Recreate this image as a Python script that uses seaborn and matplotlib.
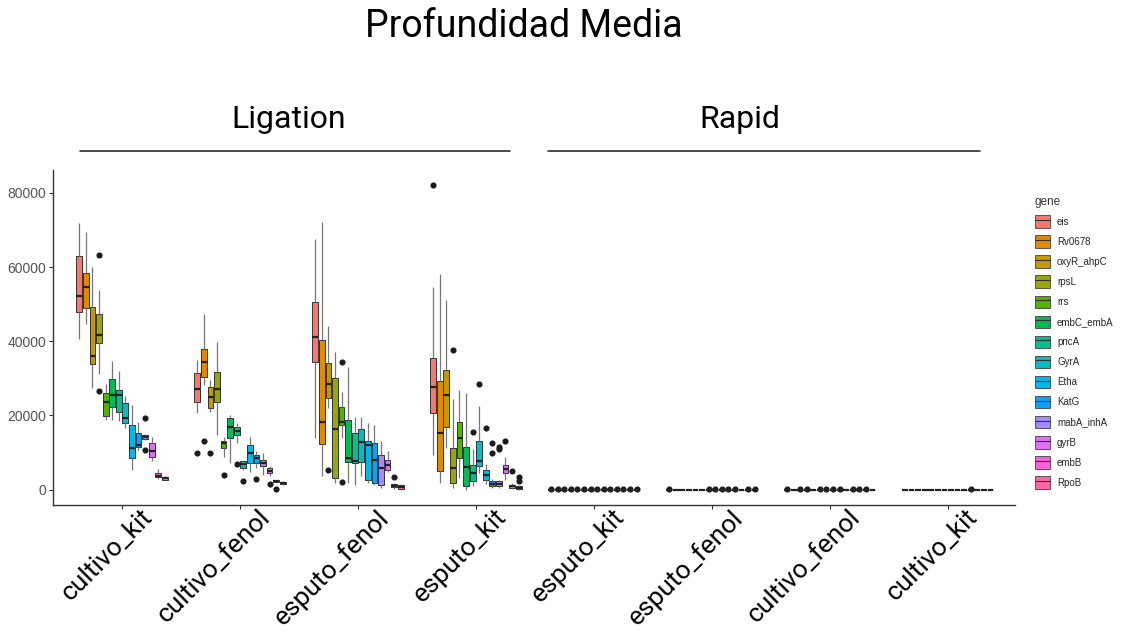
import numpy as np
import pandas as pd
import matplotlib
matplotlib.use("Agg")
import matplotlib.pyplot as plt
import matplotlib.transforms as mtransforms
from matplotlib.patches import Patch
from matplotlib.lines import Line2D
from matplotlib.legend_handler import HandlerTuple
import seaborn as sns

# ---------------- data ----------------
genes = ["eis", "Rv0678", "oxyR_ahpC", "rpsL", "rrs", "embC_embA", "pncA",
         "GyrA", "Etha", "KatG", "mabA_inhA", "gyrB", "embB", "RpoB"]
gene_colors = ["#F8766D", "#E38900", "#C49A00", "#99A800", "#53B400", "#00BC56",
               "#00C094", "#00BFC4", "#00B6EB", "#06A4FF", "#A58AFF", "#DF70F8",
               "#FB61D7", "#FF66A8"]
cond_keys = ["L_cultivo_kit", "L_cultivo_fenol", "L_esputo_fenol", "L_esputo_kit",
             "R_esputo_kit", "R_esputo_fenol", "R_cultivo_fenol", "R_cultivo_kit"]
tick_labels = ["cultivo_kit", "cultivo_fenol", "esputo_fenol", "esputo_kit",
               "esputo_kit", "esputo_fenol", "cultivo_fenol", "cultivo_kit"]
panels = ["Ligation", "Rapid"]

# Ligation - cultivo_kit (five-number summaries + outliers)
ck_low = [40700, 44700, 27300, 31100, 18800, 18800, 18600, 16500, 5400, 10700, 13500, 7600, 2900, 2500]
ck_q1 = [47900, 49000, 33800, 39500, 19900, 22400, 21000, 18000, 8600, 11500, 13700, 8900, 3300, 2700]
ck_med = [52200, 54600, 36100, 41800, 23500, 25500, 25500, 19300, 11300, 12100, 14200, 10300, 3800, 3000]
ck_q3 = [63100, 58400, 49200, 47400, 26100, 29700, 26900, 23400, 17400, 15300, 14700, 12600, 4600, 3400]
ck_high = [71800, 69400, 60100, 53700, 28600, 34700, 32000, 25100, 22800, 18300, 15000, 14300, 5600, 3600]
ck_out = [[], [], [], [63300, 26600], [], [], [], [], [], [], [19300, 10700], [], [], []]

# Ligation - cultivo_fenol
cf_low = [20600, 28200, 21000, 14800, 8900, 7200, 12500, 5400, 4700, 5800, 4000, 3600, 2000, 1200]
cf_q1 = [23500, 30400, 21900, 23700, 11200, 13900, 14800, 5800, 7200, 7200, 6300, 4500, 2100, 1500]
cf_med = [27000, 34500, 24900, 27000, 12500, 17000, 15700, 6800, 9900, 8500, 7200, 5100, 2300, 1800]
cf_q3 = [31500, 37800, 27600, 31600, 13200, 19200, 17000, 7800, 11900, 9400, 8100, 5800, 2500, 2000]
cf_high = [34900, 47400, 29500, 39800, 14300, 20100, 17900, 8100, 14300, 10300, 9900, 6300, 2700, 2200]
cf_out = [[9900], [13200], [9900], [], [4000], [], [7000], [2200], [], [2900], [], [1600], [300], []]

# Ligation - esputo_fenol
ef_low = [13900, 3600, 21900, 1900, 13900, 1800, 1300, 3800, 1800, 1300, 500, 4700, 300, 0]
ef_q1 = [34500, 12300, 24800, 3100, 17500, 7400, 7200, 7400, 2700, 1800, 1200, 5400, 700, 300]
ef_med = [41200, 18300, 28600, 16400, 18100, 8500, 7600, 12800, 11900, 8100, 5800, 6700, 1100, 700]
ef_q3 = [50600, 40300, 34200, 30000, 22400, 18800, 15200, 16400, 13000, 12500, 9400, 8100, 1500, 1200]
ef_high = [67600, 72000, 44100, 37100, 26400, 33100, 19700, 19700, 17900, 17500, 13000, 10300, 1900, 1500]
ef_out = [[], [], [5400], [], [34400, 2100], [], [], [], [], [], [], [], [3300], []]

# Ligation - esputo_kit
ek_low = [9400, 1800, 11200, 500, 3000, 0, 1000, 4500, 1500, 500, 500, 2700, 200, 0]
ek_q1 = [20600, 4900, 17000, 1800, 8500, 900, 2200, 6300, 2700, 900, 1000, 4500, 500, 200]
ek_med = [27700, 15200, 25500, 5800, 13900, 6200, 4500, 7600, 3900, 1500, 1600, 5600, 900, 500]
ek_q3 = [35400, 29300, 32200, 11200, 18300, 11600, 6700, 13000, 5400, 2200, 2200, 6700, 1300, 900]
ek_high = [54600, 58000, 51200, 24500, 26900, 26000, 11000, 22500, 7000, 2800, 2600, 8900, 1700, 1200]
ek_out = [[82200], [], [], [37600], [], [], [15400], [28600], [16600], [12500, 10000],
          [11600, 10900], [13200], [4900], [3500, 2200]]

# Rapid panel: every value ~0; an outlier dot is drawn where the value is > 0
r_esputo_kit_out = [150, 150, 150, 150, 150, 150, 150, 150, 150, 150, 150, 150, 150, 150]
r_esputo_fenol_out = [150, 0, 0, 0, 0, 0, 150, 150, 150, 150, 150, 0, 150, 150]
r_cultivo_fenol_out = [150, 0, 150, 150, 0, 150, 150, 150, 150, 0, 150, 150, 150, 0]
r_cultivo_kit_out = [0, 0, 0, 0, 0, 0, 0, 0, 0, 0, 150, 0, 0, 0]

# ---------------- build long table ----------------
REP = 10
rows = []


def add_box(cond, gene, lo, q1, med, q3, hi, outs):
    vals = [lo] + [q1] * REP + [med] * REP + [q3] * REP + [hi] + list(outs)
    for v in vals:
        rows.append((cond, gene, v))


lig = [
    ("L_cultivo_kit", ck_low, ck_q1, ck_med, ck_q3, ck_high, ck_out),
    ("L_cultivo_fenol", cf_low, cf_q1, cf_med, cf_q3, cf_high, cf_out),
    ("L_esputo_fenol", ef_low, ef_q1, ef_med, ef_q3, ef_high, ef_out),
    ("L_esputo_kit", ek_low, ek_q1, ek_med, ek_q3, ek_high, ek_out),
]
for cond, lo, q1, md, q3, hi, out in lig:
    for i, g in enumerate(genes):
        add_box(cond, g, lo[i], q1[i], md[i], q3[i], hi[i], out[i])

rap = [
    ("R_esputo_kit", r_esputo_kit_out),
    ("R_esputo_fenol", r_esputo_fenol_out),
    ("R_cultivo_fenol", r_cultivo_fenol_out),
    ("R_cultivo_kit", r_cultivo_kit_out),
]
for cond, out in rap:
    for i, g in enumerate(genes):
        add_box(cond, g, 0, 0, 0, 0, 0, [out[i]] if out[i] > 0 else [])

df = pd.DataFrame(rows, columns=["cond", "gene", "depth"])

# ---------------- plot ----------------
sns.set_theme(style="white")
plt.rcParams["font.family"] = ["Roboto", "DejaVu Sans"]

fig = plt.figure(figsize=(11.29, 6.35), dpi=100)
ax = fig.add_axes([0.047, 0.205, 0.852, 0.527])

sns.boxplot(
    data=df, x="cond", y="depth", hue="gene", order=cond_keys, hue_order=genes,
    palette=gene_colors, width=0.78, gap=0.12, linewidth=0.7, linecolor="#333333",
    fliersize=3.4, saturation=1,
    flierprops=dict(marker="o", markerfacecolor="#1a1a1a", markeredgecolor="#1a1a1a"),
    medianprops=dict(color="#222222", linewidth=1.6),
    whiskerprops=dict(color="#777777", linewidth=0.9),
    capprops=dict(linewidth=0),
    legend=False, ax=ax,
)

ax.set_xlim(-0.585, 7.57)
ax.set_ylim(-4100, 86100)
ax.set_xlabel("")
ax.set_ylabel("")
for s in ["top", "right"]:
    ax.spines[s].set_visible(False)
for s in ["left", "bottom"]:
    ax.spines[s].set_color("#333333")
    ax.spines[s].set_linewidth(1.0)

ax.set_yticks([0, 20000, 40000, 60000, 80000])
ax.set_yticklabels(["0", "20000", "40000", "60000", "80000"],
                   fontsize=10, color="#555555", family="Liberation Sans")
ax.tick_params(axis="y", length=3, color="#333333", width=0.8, pad=2, left=True)
ax.tick_params(axis="x", length=3, color="#333333", width=0.8, bottom=True)

ax.set_xticks(range(len(cond_keys)))
ax.set_xticklabels(tick_labels, fontsize=19, color="black", rotation=45,
                   ha="right", va="top", rotation_mode="anchor")
offset = mtransforms.ScaledTranslation(0.18, 0.09, fig.dpi_scale_trans)
for lab in ax.get_xticklabels():
    lab.set_transform(lab.get_transform() + offset)

# facet strips
trans = mtransforms.blended_transform_factory(ax.transData, ax.transAxes)
strips = [(-0.356, 3.288, 1.41), (3.61, 7.27, 5.24)]
for name, (x0, x1, xc) in zip(panels, strips):
    ax.plot([x0, x1], [1.057, 1.057], color="#1a1a1a", lw=1.1,
            transform=trans, clip_on=False)
    ax.text(xc, 1.15, name, transform=trans, ha="center", va="center",
            fontsize=23, color="black")

fig.text(0.464, 0.958, "Profundidad Media", ha="center", va="center",
         fontsize=27, color="black")

# legend
handles = []
for c in gene_colors:
    handles.append((Patch(facecolor=c, edgecolor="#444444", linewidth=0.6),
                    Line2D([], [], color="#333333", lw=0.8)))
leg = fig.legend(handles, genes, title="gene", loc="upper left",
                 bbox_to_anchor=(0.913, 0.698), frameon=False,
                 handler_map={tuple: HandlerTuple(ndivide=1)},
                 prop=dict(family="Liberation Sans", size=7),
                 handlelength=1.6, handleheight=1.6, labelspacing=0.78,
                 handletextpad=0.7, borderaxespad=0)
leg.get_title().set_fontsize(8.5)
leg.get_title().set_family("Liberation Sans")
leg.get_title().set_color("#333333")
leg._legend_box.align = "left"

fig.savefig("out.png", dpi=100)
